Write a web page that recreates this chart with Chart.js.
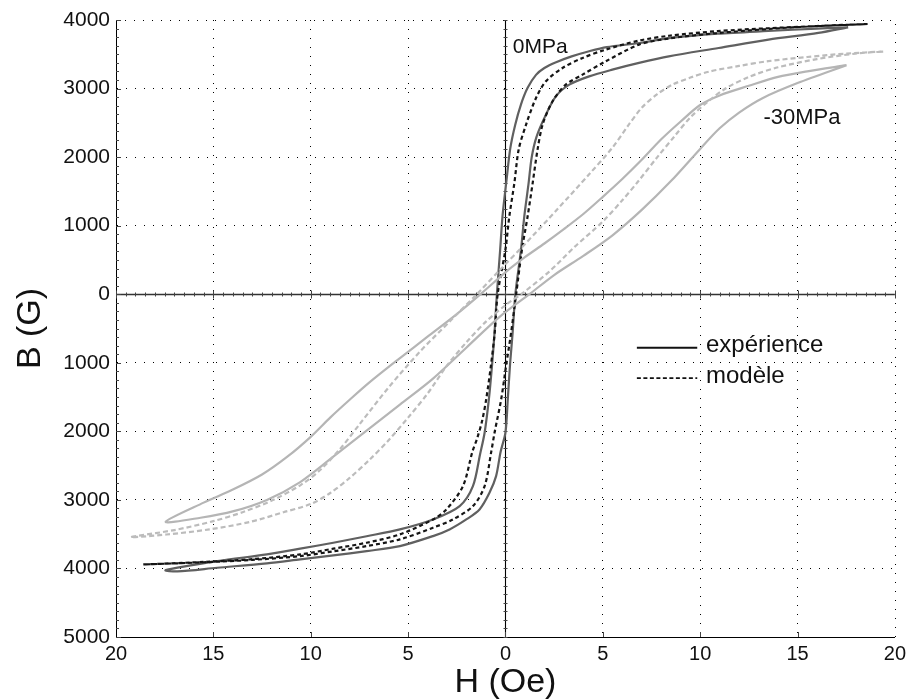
<!DOCTYPE html>
<html>
<head>
<meta charset="utf-8">
<script src="https://cdn.jsdelivr.net/npm/chart.js@4.4.1/dist/chart.umd.min.js"></script>
<style>
    html, body { margin: 0; padding: 0; background: #fff; }
    #cadre { width: 911px; height: 700px; }
</style>
</head>
<body>
<div id="cadre"><canvas id="graficoCycle" width="911" height="700"></canvas></div>
<script>
// tick labels (the source prints them without sign)
const xTickLabels = ["20", "15", "10", "5", "0", "5", "10", "15", "20"];
const yTickLabels = ["5000", "4000", "3000", "2000", "1000", "0", "1000", "2000", "3000", "4000"];

// 0 MPa - experience (descending branch, then ascending branch)
const h0Exp = [17.6, 16.0, 13.5, 10.9, 8.4, 6.9, 5.2, 4.3, 3.4, 2.6, 2.0, 1.57, 1.14, 0.8, 0.5, 0.25, 0.05, -0.15, -0.27, -0.44,
    -0.56, -0.68, -0.85, -1.07, -1.3, -1.67, -2.35, -3.72, -5.42, -7.13, -8.84, -10.54, -12.25, -14.8, -17.45,
    -16.85, -14.8, -12.25, -10.54, -8.84, -7.13, -5.42, -3.72, -2.87, -2.01, -1.33, -0.82, -0.48, -0.25, 0, 0.12, 0.24,
    0.37, 0.51, 0.8, 0.97, 1.19, 1.35, 1.6, 2.08, 2.59, 3.28, 4.3, 5.49, 6.86, 8.39, 10.95, 13.51, 16.07, 17.6];
const b0Exp = [3893, 3874, 3840, 3800, 3735, 3665, 3605, 3545, 3470, 3385, 3300, 3200, 3010, 2770, 2470, 2130, 1650, 1140, 650, 0,
    -560, -1010, -1530, -2020, -2330, -2800, -3090, -3285, -3430, -3530, -3625, -3712, -3795, -3893, -4025,
    -4043, -3990, -3926, -3868, -3810, -3747, -3674, -3528, -3431, -3285, -3139, -2896, -2653, -2300, -2020, -1535, -1010,
    -560, 0, 650, 1140, 1620, 2000, 2300, 2620, 2887, 3057, 3178, 3276, 3374, 3470, 3592, 3714, 3811, 3893];

// 0 MPa - modele
const h0Mod = [18.6, 16.0, 13.5, 10.9, 8.4, 6.86, 5.15, 3.96, 2.93, 2.08, 1.57, 1.06, 0.68, 0.46, 0.2, 0, -0.4, -0.55, -0.75,
    -0.99, -1.2, -1.45, -1.7, -2.18, -3.03, -3.72, -5.42, -7.13, -8.84, -10.54, -13.0, -15.5, -18.6,
    -15.5, -13.0, -10.54, -8.84, -7.13, -5.42, -3.72, -2.7, -1.67, -1.07, -0.73, -0.56, -0.22, 0.03, 0.29, 0.55, 0.85,
    1.14, 1.4, 1.65, 1.91, 2.42, 3.1, 3.96, 5.15, 6.86, 8.4, 10.9, 13.5, 16.0, 18.6];
const b0Mod = [3942, 3912, 3880, 3838, 3770, 3700, 3568, 3446, 3300, 3106, 2863, 2474, 2110, 1624, 1137, 652, 0, -560, -1050,
    -1535, -1850, -2100, -2300, -2799, -3139, -3285, -3503, -3625, -3712, -3795, -3865, -3905, -3942,
    -3910, -3875, -3820, -3750, -3674, -3576, -3406, -3285, -3091, -2799, -2300, -2021, -1535, -1050, -563, 0, 652,
    1137, 1624, 2110, 2474, 2814, 3057, 3203, 3397, 3641, 3730, 3810, 3870, 3912, 3942];

// -30 MPa - experience
const h30Exp = [17.52, 15.5, 14.0, 12.5, 11.0, 10.0, 9.0, 8.0, 7.0, 6.0, 5.0, 4.0, 3.0, 2.0, 1.0, 0.0, -1.2, -2.5, -4.0,
    -5.5, -7.0, -8.0, -9.0, -10.0, -11.2, -12.5, -14.0, -15.5, -17.45,
    -15.66, -13.96, -12.25, -10.54, -8.84, -7.13, -5.42, -3.72, -2.01, -0.3, 1.23, 2.5, 4.0, 5.5, 7.0, 8.5, 10.0, 11.0,
    12.0, 13.2, 15.0, 17.52];
const b30Exp = [3341, 3250, 3170, 3040, 2900, 2760, 2520, 2260, 1960, 1680, 1420, 1170, 950, 740, 540, 320, 20, -290, -620,
    -950, -1290, -1540, -1800, -2080, -2370, -2630, -2850, -3040, -3320,
    -3260, -3164, -3000, -2740, -2370, -1990, -1610, -1230, -780, -330, 0, 280, 560, 860, 1230, 1650, 2120, 2420,
    2650, 2860, 3080, 3341];

// -30 MPa - modele
const h30Mod = [19.4, 17.5, 15.5, 13.5, 12.0, 10.5, 9.5, 8.6, 7.8, 7.0, 6.3, 5.5, 4.3, 2.7, 1.0, -0.2, -1.4, -2.8, -4.4,
    -6.0, -7.5, -8.5, -9.5, -10.5, -12.0, -13.5, -15.0, -17.0, -19.24,
    -17.4, -15.2, -13.1, -11.4, -10.0, -9.0, -8.0, -7.0, -6.0, -5.0, -4.0, -3.0, -2.0, -1.0, 0.0, 0.9, 2.25, 3.55, 5.0,
    6.0, 6.8, 7.8, 8.7, 9.5, 10.4, 11.3, 12.5, 14.0, 16.0, 18.0, 19.4];
const b30Mod = [3540, 3510, 3460, 3400, 3330, 3250, 3160, 3060, 2920, 2720, 2460, 2140, 1750, 1250, 730, 380, 20, -380, -840,
    -1360, -1900, -2260, -2560, -2780, -3010, -3180, -3310, -3440, -3543,
    -3505, -3430, -3320, -3180, -3060, -2900, -2680, -2420, -2130, -1800, -1450, -1040, -700, -400, -160, 20, 330, 690, 1060,
    1370, 1640, 2000, 2310, 2580, 2810, 3000, 3170, 3310, 3430, 3510, 3540];

const police = "'Liberation Sans', Arial, sans-serif";

// where the labels sit, in data units
const etiquettes = {
    zero: { h: 0.38, b: 3600, texte: "0MPa" },
    trente: { h: 13.25, b: 2570, texte: "-30MPa" },
    legende: { h1: 6.75, h2: 9.85, hTexte: 10.3, bExp: -780, bMod: -1225 }
};

function points(hs, bs) {
    return hs.map((h, i) => ({ x: h, y: bs[i] }));
}

// grid lines on the outer edge are drawn by hand below
const couleurGrille = (c, bord) => (c.tick && c.tick.value === bord ? "rgba(0,0,0,0)" : "#000");

const extras = {
    id: "extras",
    beforeDatasetsDraw(chart) {
        const { ctx, chartArea: a, scales: { x, y } } = chart;
        const x0 = Math.round(x.getPixelForValue(0)) + 0.5;
        const y0 = Math.round(y.getPixelForValue(0)) + 0.5;
        ctx.save();

        // dotted top and right edges
        ctx.strokeStyle = "#000";
        ctx.lineWidth = 1;
        ctx.setLineDash([1, 8]);
        const top = Math.round(a.top) + 0.5, right = Math.round(a.right) + 0.5;
        ctx.beginPath();
        ctx.moveTo(a.left, top); ctx.lineTo(a.right, top);
        ctx.moveTo(right, a.bottom); ctx.lineTo(right, a.top);
        ctx.stroke();
        ctx.setLineDash([]);

        // axes through zero
        ctx.lineWidth = 1.3;
        ctx.strokeStyle = "#333";
        ctx.beginPath();
        ctx.moveTo(a.left, y0); ctx.lineTo(a.right, y0);
        ctx.stroke();
        ctx.strokeStyle = "#000";
        ctx.lineWidth = 1.1;
        ctx.beginPath();
        ctx.moveTo(x0, a.top); ctx.lineTo(x0, a.bottom);
        ctx.stroke();

        // small ticks
        ctx.lineWidth = 1;
        ctx.strokeStyle = "#444";
        ctx.beginPath();
        for (let i = -40; i <= 40; i++) {
            const px = Math.round(x.getPixelForValue(i * 0.5)) + 0.5;
            const l = i % 10 === 0 ? 4 : 2;
            ctx.moveTo(px, y0 - l); ctx.lineTo(px, y0 + l);
            if (i % 10 === 0 && Math.abs(i) !== 40) { ctx.moveTo(px, a.bottom); ctx.lineTo(px, a.bottom - 5); }
        }
        for (let i = -40; i <= 32; i++) {
            const py = Math.round(y.getPixelForValue(i * 125)) + 0.5;
            const l = i % 8 === 0 ? 5 : 3;
            ctx.moveTo(a.left, py); ctx.lineTo(a.left + l, py);
            ctx.moveTo(x0 - 2, py); ctx.lineTo(x0 + 2, py);
        }
        ctx.stroke();
        ctx.restore();
    },
    afterDatasetsDraw(chart) {
        const { ctx, scales: { x, y } } = chart;
        ctx.save();
        ctx.fillStyle = "#111";
        ctx.textBaseline = "middle";
        ctx.textAlign = "left";

        ctx.font = `21px ${police}`;
        ctx.fillText(etiquettes.zero.texte, x.getPixelForValue(etiquettes.zero.h), y.getPixelForValue(etiquettes.zero.b));
        ctx.font = `22px ${police}`;
        ctx.fillText(etiquettes.trente.texte, x.getPixelForValue(etiquettes.trente.h), y.getPixelForValue(etiquettes.trente.b));

        // legend
        const lg = etiquettes.legende;
        const lx1 = x.getPixelForValue(lg.h1), lx2 = x.getPixelForValue(lg.h2);
        const yE = y.getPixelForValue(lg.bExp), yM = y.getPixelForValue(lg.bMod);
        ctx.strokeStyle = "#111";
        ctx.lineWidth = 2;
        ctx.beginPath(); ctx.moveTo(lx1, yE); ctx.lineTo(lx2, yE); ctx.stroke();
        ctx.lineWidth = 1.8;
        ctx.setLineDash([4, 2.5]);
        ctx.beginPath(); ctx.moveTo(lx1, yM); ctx.lineTo(lx2, yM); ctx.stroke();
        ctx.setLineDash([]);
        ctx.font = `24px ${police}`;
        ctx.fillText("expérience", x.getPixelForValue(lg.hTexte), yE - 2);
        ctx.fillText("modèle", x.getPixelForValue(lg.hTexte), yM - 2);
        ctx.restore();
    }
};

const styleBase = { showLine: true, pointRadius: 0, borderWidth: 2.2, tension: 0.3, fill: false };

new Chart(document.getElementById("graficoCycle"), {
    type: "scatter",
    data: {
        datasets: [
            { ...styleBase, label: "-30MPa modèle", data: points(h30Mod, b30Mod), borderColor: "#bcbcbc", borderDash: [5, 3] },
            { ...styleBase, label: "-30MPa expérience", data: points(h30Exp, b30Exp), borderColor: "#b5b5b5" },
            { ...styleBase, label: "0MPa modèle", data: points(h0Mod, b0Mod), borderColor: "#151515", borderDash: [4, 3] },
            { ...styleBase, label: "0MPa expérience", data: points(h0Exp, b0Exp), borderColor: "#606060" }
        ]
    },
    options: {
        responsive: false,
        animation: false,
        devicePixelRatio: 1,
        layout: { padding: { left: 0, right: 14, top: 20, bottom: 0 } },
        plugins: { legend: { display: false }, tooltip: { enabled: false } },
        scales: {
            x: {
                type: "linear",
                min: -20, max: 20,
                afterFit: s => { s.height = 63; },
                ticks: {
                    stepSize: 5,
                    padding: 5,
                    color: "#111",
                    font: { family: police, size: 20 },
                    maxRotation: 0,
                    callback: (v, i) => xTickLabels[i]
                },
                grid: { color: c => couleurGrille(c, 20), lineWidth: 1, drawTicks: false },
                border: { display: true, color: "#000", width: 1, dash: [1, 8] },
                title: {
                    display: true, text: "H (Oe)", color: "#111",
                    font: { family: police, size: 34, lineHeight: 1.0 },
                    padding: { top: 0, bottom: 0 }
                }
            },
            y: {
                type: "linear",
                min: -5000, max: 4000,
                afterFit: s => { s.width = 116; },
                ticks: {
                    stepSize: 1000,
                    padding: 6,
                    color: "#111",
                    font: { family: police, size: 21 },
                    callback: (v, i) => yTickLabels[i]
                },
                grid: { color: c => couleurGrille(c, 4000), lineWidth: 1, drawTicks: false },
                border: { display: true, color: "#000", width: 1, dash: [1, 8] },
                title: {
                    display: true, text: "B (G)", color: "#111",
                    font: { family: police, size: 34, lineHeight: 1.0 },
                    padding: { top: 14, bottom: 0 }
                }
            }
        }
    },
    plugins: [extras]
});
</script>
</body>
</html>
